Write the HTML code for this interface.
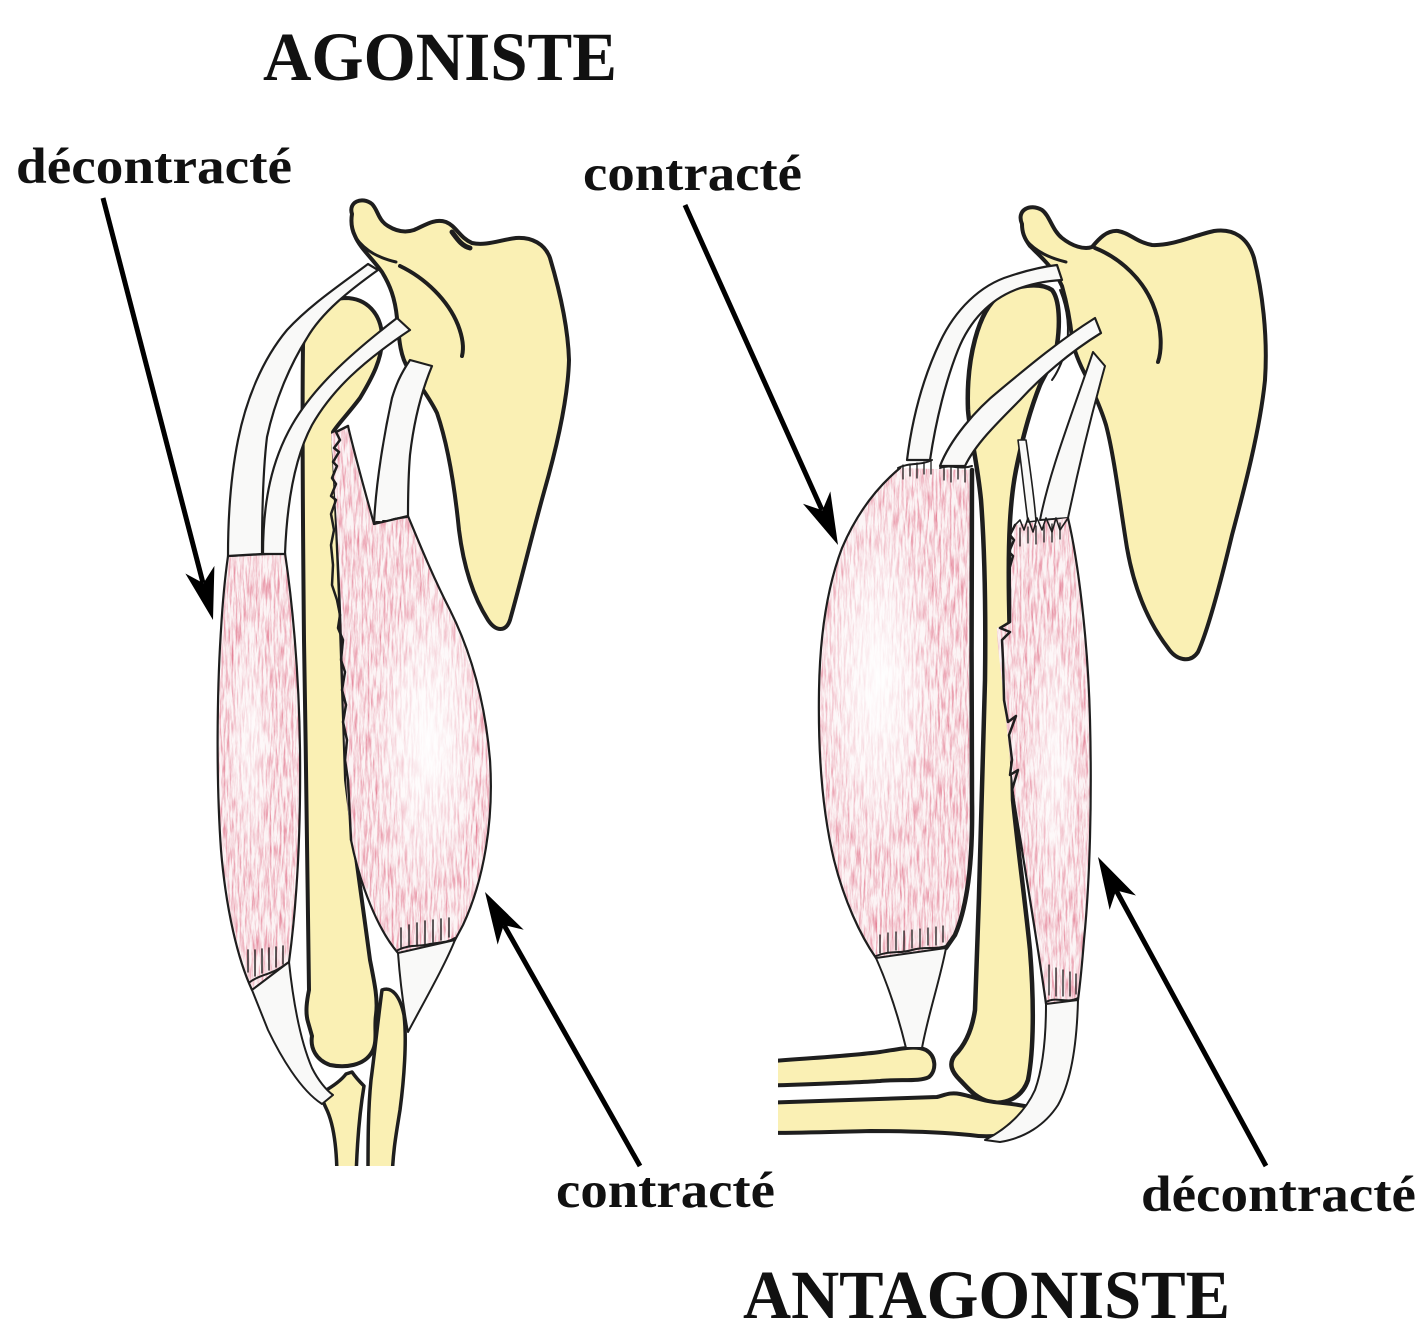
<!DOCTYPE html>
<html>
<head>
<meta charset="utf-8">
<style>
html,body{margin:0;padding:0;background:#fff;}
svg{display:block;}
text{font-family:"Liberation Serif","DejaVu Serif",serif;font-weight:bold;fill:#111;}
</style>
</head>
<body>
<svg width="1428" height="1338" viewBox="0 0 1428 1338" xmlns="http://www.w3.org/2000/svg">
<defs>
  <filter id="fib" x="0" y="0" width="1" height="1" color-interpolation-filters="sRGB">
    <feTurbulence type="fractalNoise" baseFrequency="0.5 0.045" numOctaves="4" seed="4"/>
    <feColorMatrix type="matrix" values="0 0 0 0 0.87  0 0 0 0 0.40  0 0 0 0 0.50  1.7 0 0 0 -0.68"/>
  </filter>
  <radialGradient id="hl" cx="0.5" cy="0.5" r="0.5">
    <stop offset="0" stop-color="#fff" stop-opacity="0.95"/>
    <stop offset="0.6" stop-color="#fff" stop-opacity="0.5"/>
    <stop offset="1" stop-color="#fff" stop-opacity="0"/>
  </radialGradient>
  <clipPath id="cTL"><path d="M228,556 L285,553 C292,600 299,670 300,750 C301,840 296,910 289,962 L252,990 C238,960 226,910 221,850 C216,780 217,690 221,630 C223,595 226,570 228,556 Z"/></clipPath>
  <clipPath id="cBL"><path d="M331,434 L348,426 C356,460 366,495 374,524 L408,516 C418,540 432,575 450,610 C470,650 485,700 490,760 C494,820 484,880 463,925 L455,940 L398,953 C378,930 360,885 351,840 C345,800 344,700 342,640 C340,560 334,480 331,434 Z"/></clipPath>
  <clipPath id="cBR"><path d="M900,468 L972,470 C972,560 971,700 972,800 C973,860 968,905 955,935 L946,948 L876,958 C860,935 844,900 834,860 C822,810 818,750 819,690 C820,630 828,585 842,548 C856,515 876,488 900,468 Z"/></clipPath>
  <clipPath id="cTR"><path d="M1015,525 L1068,518 C1078,560 1088,640 1090,720 C1092,800 1090,880 1084,940 C1082,965 1080,985 1078,1000 L1046,1004 C1040,960 1030,900 1022,850 C1014,800 1008,740 1004,700 C1001,670 997,645 997,628 L1010,622 C1010,590 1012,555 1015,525 Z"/></clipPath>
  <clipPath id="cutL"><rect x="0" y="0" width="700" height="1166"/></clipPath>
  <clipPath id="cutR"><rect x="778" y="0" width="650" height="1338"/></clipPath>
</defs>

<rect x="0" y="0" width="1428" height="1338" fill="#fff"/>

<!-- ================= LEFT FIGURE ================= -->
<g stroke-linejoin="round" stroke-linecap="round">
  <!-- scapula -->
  <path d="M352,214 C348,202 362,196 372,204 C378,210 378,220 388,226 C396,231 405,233 414,230 C424,226 434,218 446,222 C456,226 460,238 472,243 C486,246 500,240 516,238 C532,237 545,244 550,258 C558,285 568,325 569,360 C568,400 556,450 544,492 C532,535 520,585 510,620 C506,632 496,632 488,620 C474,598 464,570 459,530 C455,490 449,448 437,413 C428,395 416,380 408,368 C400,356 399,338 397,318 C395,298 390,285 382,272 C372,258 360,248 355,236 C351,228 351,220 352,214 Z" fill="#faf0b4" stroke="#1e1e1e" stroke-width="4"/>
  <path d="M356,238 C366,252 380,258 396,262" fill="none" stroke="#1e1e1e" stroke-width="3"/>
  <path d="M400,266 C425,278 448,300 458,325 C463,338 464,348 462,356" fill="none" stroke="#1e1e1e" stroke-width="4"/>
  <path d="M452,232 C458,240 462,246 470,248" fill="none" stroke="#1e1e1e" stroke-width="5"/>

  <!-- humerus -->
  <path d="M303,345 C306,315 322,299 345,298 C367,298 381,314 382,336 C383,358 372,378 360,398 C348,414 338,424 333,432 L340,600 L346,780 C352,830 362,900 370,960 C375,985 378,1000 376,1015 C374,1028 378,1042 372,1052 C364,1066 345,1068 330,1065 C316,1060 310,1048 312,1036 L308,1022 C305,1012 307,1000 309,990 C308,900 306,760 304,640 C303,540 302,420 303,345 Z" fill="#faf0b4" stroke="#1e1e1e" stroke-width="4"/>

  <!-- forearm bones -->
  <g clip-path="url(#cutL)">
    <path d="M323,1092 C330,1088 340,1082 346,1074 L352,1072 C356,1078 360,1082 364,1086 C360,1110 357,1140 356,1180 L337,1180 C337,1140 332,1120 326,1108 C322,1100 322,1096 323,1092 Z" fill="#faf0b4" stroke="#1e1e1e" stroke-width="3.5"/>
    <path d="M382,990 C392,986 400,996 404,1015 C407,1040 404,1080 400,1110 C396,1135 393,1150 392,1180 L368,1180 C368,1140 368,1110 371,1080 C375,1050 378,1020 382,990 Z" fill="#faf0b4" stroke="#1e1e1e" stroke-width="3.5"/>
  </g>

  <!-- triceps (relaxed) -->
  <path d="M228,556 L285,553 C292,600 299,670 300,750 C301,840 296,910 289,962 L252,990 C238,960 226,910 221,850 C216,780 217,690 221,630 C223,595 226,570 228,556 Z" fill="#fcf4f5"/>
  <g clip-path="url(#cTL)">
    <rect x="215" y="550" width="90" height="445" filter="url(#fib)"/>
    <ellipse cx="250" cy="740" rx="22" ry="130" fill="url(#hl)" opacity="0.7"/>
  </g>
  <path d="M228,556 L285,553 C292,600 299,670 300,750 C301,840 296,910 289,962 L252,990 C238,960 226,910 221,850 C216,780 217,690 221,630 C223,595 226,570 228,556 Z" fill="none" stroke="#1e1e1e" stroke-width="2.2"/>

  <!-- triceps tendons -->
  <path d="M228,556 C228,510 232,470 238,440 C246,400 262,360 287,330 C310,305 340,285 368,264 L378,270 C350,290 322,312 307,338 C290,365 275,400 267,437 C263,470 262,510 262,554 Z" fill="#f9f9f8" stroke="#1e1e1e" stroke-width="2.2"/>
  <path d="M263,554 C263,500 272,460 292,425 C312,390 345,358 397,318 L410,330 C362,362 332,390 312,425 C296,455 287,500 285,554 Z" fill="#f9f9f8" stroke="#1e1e1e" stroke-width="2.2"/>
  <path d="M252,990 L289,962 C293,1000 300,1040 312,1068 C318,1080 326,1090 333,1095 L322,1104 C300,1090 280,1055 268,1030 C262,1015 256,1000 252,990 Z" fill="#f9f9f8" stroke="#1e1e1e" stroke-width="2"/>
  <path d="M248,950 v22 M255,950 v26 M262,949 v24 M269,948 v22 M276,947 v20 M283,946 v18" stroke="#1e1e1e" stroke-width="1.4"/>
  <path d="M250,982 C258,976 266,975 272,972 C278,970 283,966 289,962" fill="none" stroke="#1e1e1e" stroke-width="2"/>

  <!-- biceps (contracted) -->
  <path d="M331,434 L348,426 C356,460 366,495 374,524 L408,516 C418,540 432,575 450,610 C470,650 485,700 490,760 C494,820 484,880 463,925 L455,940 L398,953 C378,930 360,885 351,840 C345,800 344,700 342,640 C340,560 334,480 331,434 Z" fill="#fcf4f5"/>
  <g clip-path="url(#cBL)">
    <rect x="325" y="420" width="175" height="540" filter="url(#fib)"/>
    <ellipse cx="428" cy="740" rx="58" ry="160" fill="url(#hl)"/>
  </g>
  <path d="M348,426 C356,460 366,495 374,524 M408,516 C418,540 432,575 450,610 C470,650 485,700 490,760 C494,820 484,880 463,925 L455,940 M398,953 C378,930 360,885 351,840" fill="none" stroke="#1e1e1e" stroke-width="2.2"/>
  <!-- jagged edge along humerus -->
  <polyline points="348,426 336,432 340,440 334,448 339,452 333,462 337,466 332,478 336,484 331,496 336,500 331,514 334,530 331,545 333,565 332,585 337,600 340,615 338,628 343,640 341,660 345,672 342,690 346,705 343,722 347,740 345,760 348,780 349,800 351,840" fill="none" stroke="#1e1e1e" stroke-width="2.5"/>

  <!-- biceps tendon top -->
  <path d="M374,524 C376,480 385,430 392,398 C396,385 400,375 410,360 L432,366 C422,390 414,420 410,455 C408,480 408,500 408,516 Z" fill="#f9f9f8" stroke="#1e1e1e" stroke-width="2.2"/>
  <path d="M376,522 h4 M383,521 h4 M391,520 C396,518 402,518 407,517" stroke="#1e1e1e" stroke-width="2"/>
  <!-- biceps tendon bottom -->
  <path d="M398,953 L455,940 C445,965 425,1000 408,1032 C403,1005 400,980 398,953 Z" fill="#f9f9f8" stroke="#1e1e1e" stroke-width="2"/>
  <path d="M401,928 v20 M409,925 v22 M417,923 v23 M425,921 v23 M433,920 v22 M441,919 v21 M449,918 v19" stroke="#1e1e1e" stroke-width="1.4"/>
  <path d="M398,950 C410,944 420,947 430,944 C440,942 447,943 455,938" fill="none" stroke="#1e1e1e" stroke-width="2"/>
</g>

<!-- ================= RIGHT FIGURE ================= -->
<g stroke-linejoin="round" stroke-linecap="round">
  <!-- scapula -->
  <path d="M1022,224 C1016,210 1030,203 1042,210 C1050,216 1052,230 1062,238 C1072,246 1084,250 1092,247 C1098,240 1106,230 1118,231 C1130,233 1136,242 1152,245 C1172,246 1192,236 1214,231 C1234,228 1248,238 1254,258 C1262,290 1268,335 1265,380 C1260,430 1244,490 1232,535 C1220,585 1208,630 1198,652 C1190,664 1176,660 1168,648 C1148,622 1134,588 1127,548 C1120,505 1114,455 1106,425 C1100,405 1093,392 1087,378 C1080,365 1074,352 1072,338 C1070,318 1066,300 1062,286 C1054,268 1040,256 1030,246 C1024,238 1022,232 1022,224 Z" fill="#faf0b4" stroke="#1e1e1e" stroke-width="4"/>
  <path d="M1026,240 C1036,252 1050,258 1066,262" fill="none" stroke="#1e1e1e" stroke-width="3"/>
  <path d="M1095,248 C1120,258 1145,280 1155,310 C1162,330 1162,350 1158,362" fill="none" stroke="#1e1e1e" stroke-width="4"/>

  <!-- humerus -->
  <path d="M968,410 C966,360 978,310 1000,295 C1015,285 1040,282 1052,290 C1060,300 1060,325 1057,345 C1054,362 1046,372 1040,385 C1030,410 1022,440 1016,470 C1010,500 1008,540 1009,600 L1013,800 C1018,850 1025,900 1030,950 C1034,1000 1034,1050 1028,1080 C1022,1098 1005,1105 990,1102 C975,1098 968,1088 960,1080 C952,1072 948,1064 955,1055 C965,1045 972,1030 975,1010 C979,900 983,780 985,680 C986,600 984,540 981,500 C977,460 970,435 968,410 Z" fill="#faf0b4" stroke="#1e1e1e" stroke-width="4.5"/>
  <path d="M1060,290 C1068,310 1070,330 1066,350 C1062,362 1058,372 1052,380" fill="none" stroke="#1e1e1e" stroke-width="2"/>

  <!-- forearm bones (horizontal) -->
  <g clip-path="url(#cutR)">
    <path d="M760,1062 C810,1058 850,1056 880,1052 C900,1049 915,1045 926,1050 C936,1056 937,1070 929,1077 C920,1082 900,1079 880,1081 C850,1083 810,1084 760,1086 Z" fill="#faf0b4" stroke="#1e1e1e" stroke-width="4"/>
    <path d="M760,1103 C820,1101 880,1099 937,1097 C945,1095 950,1092 960,1094 C975,1097 985,1102 1003,1103 C1015,1104 1025,1106 1034,1108 C1034,1118 1028,1126 1020,1128 C1005,1136 990,1138 970,1135 C940,1132 900,1131 870,1131 C830,1132 800,1133 760,1133 Z" fill="#faf0b4" stroke="#1e1e1e" stroke-width="4"/>
  </g>

  <!-- triceps tendons -->
  <path d="M1018,440 C1022,470 1025,500 1028,522 L1036,521 C1034,495 1030,468 1026,440 Z" fill="#f9f9f8" stroke="#1e1e1e" stroke-width="1.6"/>
  <path d="M1040,520 C1050,470 1070,420 1093,352 L1105,366 C1090,420 1078,470 1068,518 Z" fill="#f9f9f8" stroke="#1e1e1e" stroke-width="2"/>

  <!-- triceps (relaxed) -->
  <path d="M1015,525 L1068,518 C1078,560 1088,640 1090,720 C1092,800 1090,880 1084,940 C1082,965 1080,985 1078,1000 L1046,1004 C1040,960 1030,900 1022,850 C1014,800 1008,740 1004,700 C1001,670 997,645 997,628 L1010,622 C1010,590 1012,555 1015,525 Z" fill="#fcf4f5"/>
  <g clip-path="url(#cTR)">
    <rect x="990" y="510" width="105" height="500" filter="url(#fib)"/>
    <ellipse cx="1055" cy="760" rx="28" ry="150" fill="url(#hl)" opacity="0.8"/>
  </g>
  <path d="M1068,518 C1078,560 1088,640 1090,720 C1092,800 1090,880 1084,940 C1082,965 1080,985 1078,1000 M1046,1004 C1040,960 1030,900 1022,850" fill="none" stroke="#1e1e1e" stroke-width="2.2"/>
  <polyline points="1015,525 1010,535 1014,540 1009,552 1013,556 1009,570 1010,590 1010,622 1000,628 1010,632 1002,640 1003,660 1004,700 1008,722 1016,716 1009,735 1012,760 1010,775 1018,770 1012,790 1022,850" fill="none" stroke="#1e1e1e" stroke-width="2.5"/>
  <path d="M1015,525 L1020,520 1024,530 1028,518 1033,532 1037,518 1042,530 1046,518 1052,532 1056,518 1060,530 1068,518" fill="none" stroke="#1e1e1e" stroke-width="1.6"/>
  <path d="M1020,528 v18 M1028,527 v16 M1036,526 v18 M1044,525 v17 M1052,524 v18 M1060,523 v16" stroke="#1e1e1e" stroke-width="1.3"/>

  <!-- triceps bottom tendon wrapping elbow -->
  <path d="M1046,1004 L1078,1000 C1077,1040 1072,1080 1058,1105 C1045,1125 1025,1138 1000,1142 L985,1140 C1008,1128 1025,1112 1035,1090 C1044,1065 1046,1030 1046,1004 Z" fill="#f9f9f8" stroke="#1e1e1e" stroke-width="2"/>
  <path d="M1049,965 v30 M1056,968 v28 M1063,970 v26 M1070,972 v24 M1076,974 v20" stroke="#1e1e1e" stroke-width="1.3"/>
  <path d="M1046,1002 C1056,996 1066,1004 1078,998" fill="none" stroke="#1e1e1e" stroke-width="2"/>

  <!-- biceps (contracted) -->
  <path d="M900,468 L972,470 C972,560 971,700 972,800 C973,860 968,905 955,935 L946,948 L876,958 C860,935 844,900 834,860 C822,810 818,750 819,690 C820,630 828,585 842,548 C856,515 876,488 900,468 Z" fill="#fcf4f5"/>
  <g clip-path="url(#cBR)">
    <rect x="815" y="460" width="160" height="505" filter="url(#fib)"/>
    <ellipse cx="878" cy="680" rx="60" ry="185" fill="url(#hl)"/>
  </g>
  <path d="M900,468 C876,488 856,515 842,548 C828,585 820,630 819,690 C818,750 822,810 834,860 C844,900 860,935 876,958" fill="none" stroke="#1e1e1e" stroke-width="2.2"/>
  <path d="M972,470 C972,560 971,700 972,800 C973,860 968,905 955,935 L946,948" fill="none" stroke="#1e1e1e" stroke-width="4.5"/>
  <path d="M898,468 C910,462 920,466 932,460 M940,468 C950,464 960,470 972,466" fill="none" stroke="#1e1e1e" stroke-width="2"/>
  <path d="M903,465 v14 M910,464 v12 M917,463 v15 M924,462 v12 M931,461 v13 M944,467 v13 M951,467 v15 M958,467 v12 M965,468 v14" stroke="#1e1e1e" stroke-width="1.3"/>

  <!-- biceps tendons top -->
  <path d="M907,460 C912,420 922,380 940,342 C955,310 980,285 1010,276 C1025,271 1040,267 1057,265 L1062,280 C1045,281 1030,284 1015,290 C990,300 970,320 958,350 C946,380 936,420 930,460 Z" fill="#f9f9f8" stroke="#1e1e1e" stroke-width="2.2"/>
  <path d="M940,466 C950,440 975,410 1000,390 C1030,365 1060,340 1095,318 L1101,333 C1070,352 1040,378 1020,400 C995,425 975,445 965,466 Z" fill="#f9f9f8" stroke="#1e1e1e" stroke-width="2.2"/>

  <!-- biceps bottom tendon -->
  <path d="M876,958 L946,948 C940,980 928,1015 922,1048 L906,1048 C898,1015 888,985 876,958 Z" fill="#f9f9f8" stroke="#1e1e1e" stroke-width="2"/>
  <path d="M880,935 v18 M888,933 v20 M896,932 v18 M904,931 v20 M912,930 v18 M920,929 v18 M928,928 v17 M936,927 v18 M943,926 v16" stroke="#1e1e1e" stroke-width="1.3"/>
  <path d="M876,956 C890,950 900,954 912,950 C925,946 935,950 946,946" fill="none" stroke="#1e1e1e" stroke-width="2"/>
</g>

<!-- ================= ARROWS ================= -->
<g stroke="#000" stroke-width="5" stroke-linecap="butt" fill="#000">
  <line x1="103" y1="198" x2="203" y2="583"/>
  <g transform="translate(213,620) rotate(75.39)"><polygon points="0,0 -52,-15 -38,0 -52,15" stroke="none"/></g>
  <line x1="640" y1="1166" x2="504" y2="925"/>
  <g transform="translate(485,892) rotate(-119.6)"><polygon points="0,0 -52,-15 -38,0 -52,15" stroke="none"/></g>
  <line x1="685" y1="205" x2="822" y2="510"/>
  <g transform="translate(838,545) rotate(65.77)"><polygon points="0,0 -52,-15 -38,0 -52,15" stroke="none"/></g>
  <line x1="1266" y1="1166" x2="1116" y2="890"/>
  <g transform="translate(1098,857) rotate(-118.5)"><polygon points="0,0 -52,-15 -38,0 -52,15" stroke="none"/></g>
</g>

<!-- ================= TEXT ================= -->
<text x="263" y="80" font-size="69" textLength="354" lengthAdjust="spacingAndGlyphs">AGONISTE</text>
<text x="16" y="183" font-size="51" textLength="276" lengthAdjust="spacingAndGlyphs">décontracté</text>
<text x="583" y="190" font-size="51" textLength="219" lengthAdjust="spacingAndGlyphs">contracté</text>
<text x="556" y="1207" font-size="51" textLength="219" lengthAdjust="spacingAndGlyphs">contracté</text>
<text x="1141" y="1211" font-size="51" textLength="275" lengthAdjust="spacingAndGlyphs">décontracté</text>
<text x="743" y="1318" font-size="69" textLength="487" lengthAdjust="spacingAndGlyphs">ANTAGONISTE</text>
</svg>
</body>
</html>
